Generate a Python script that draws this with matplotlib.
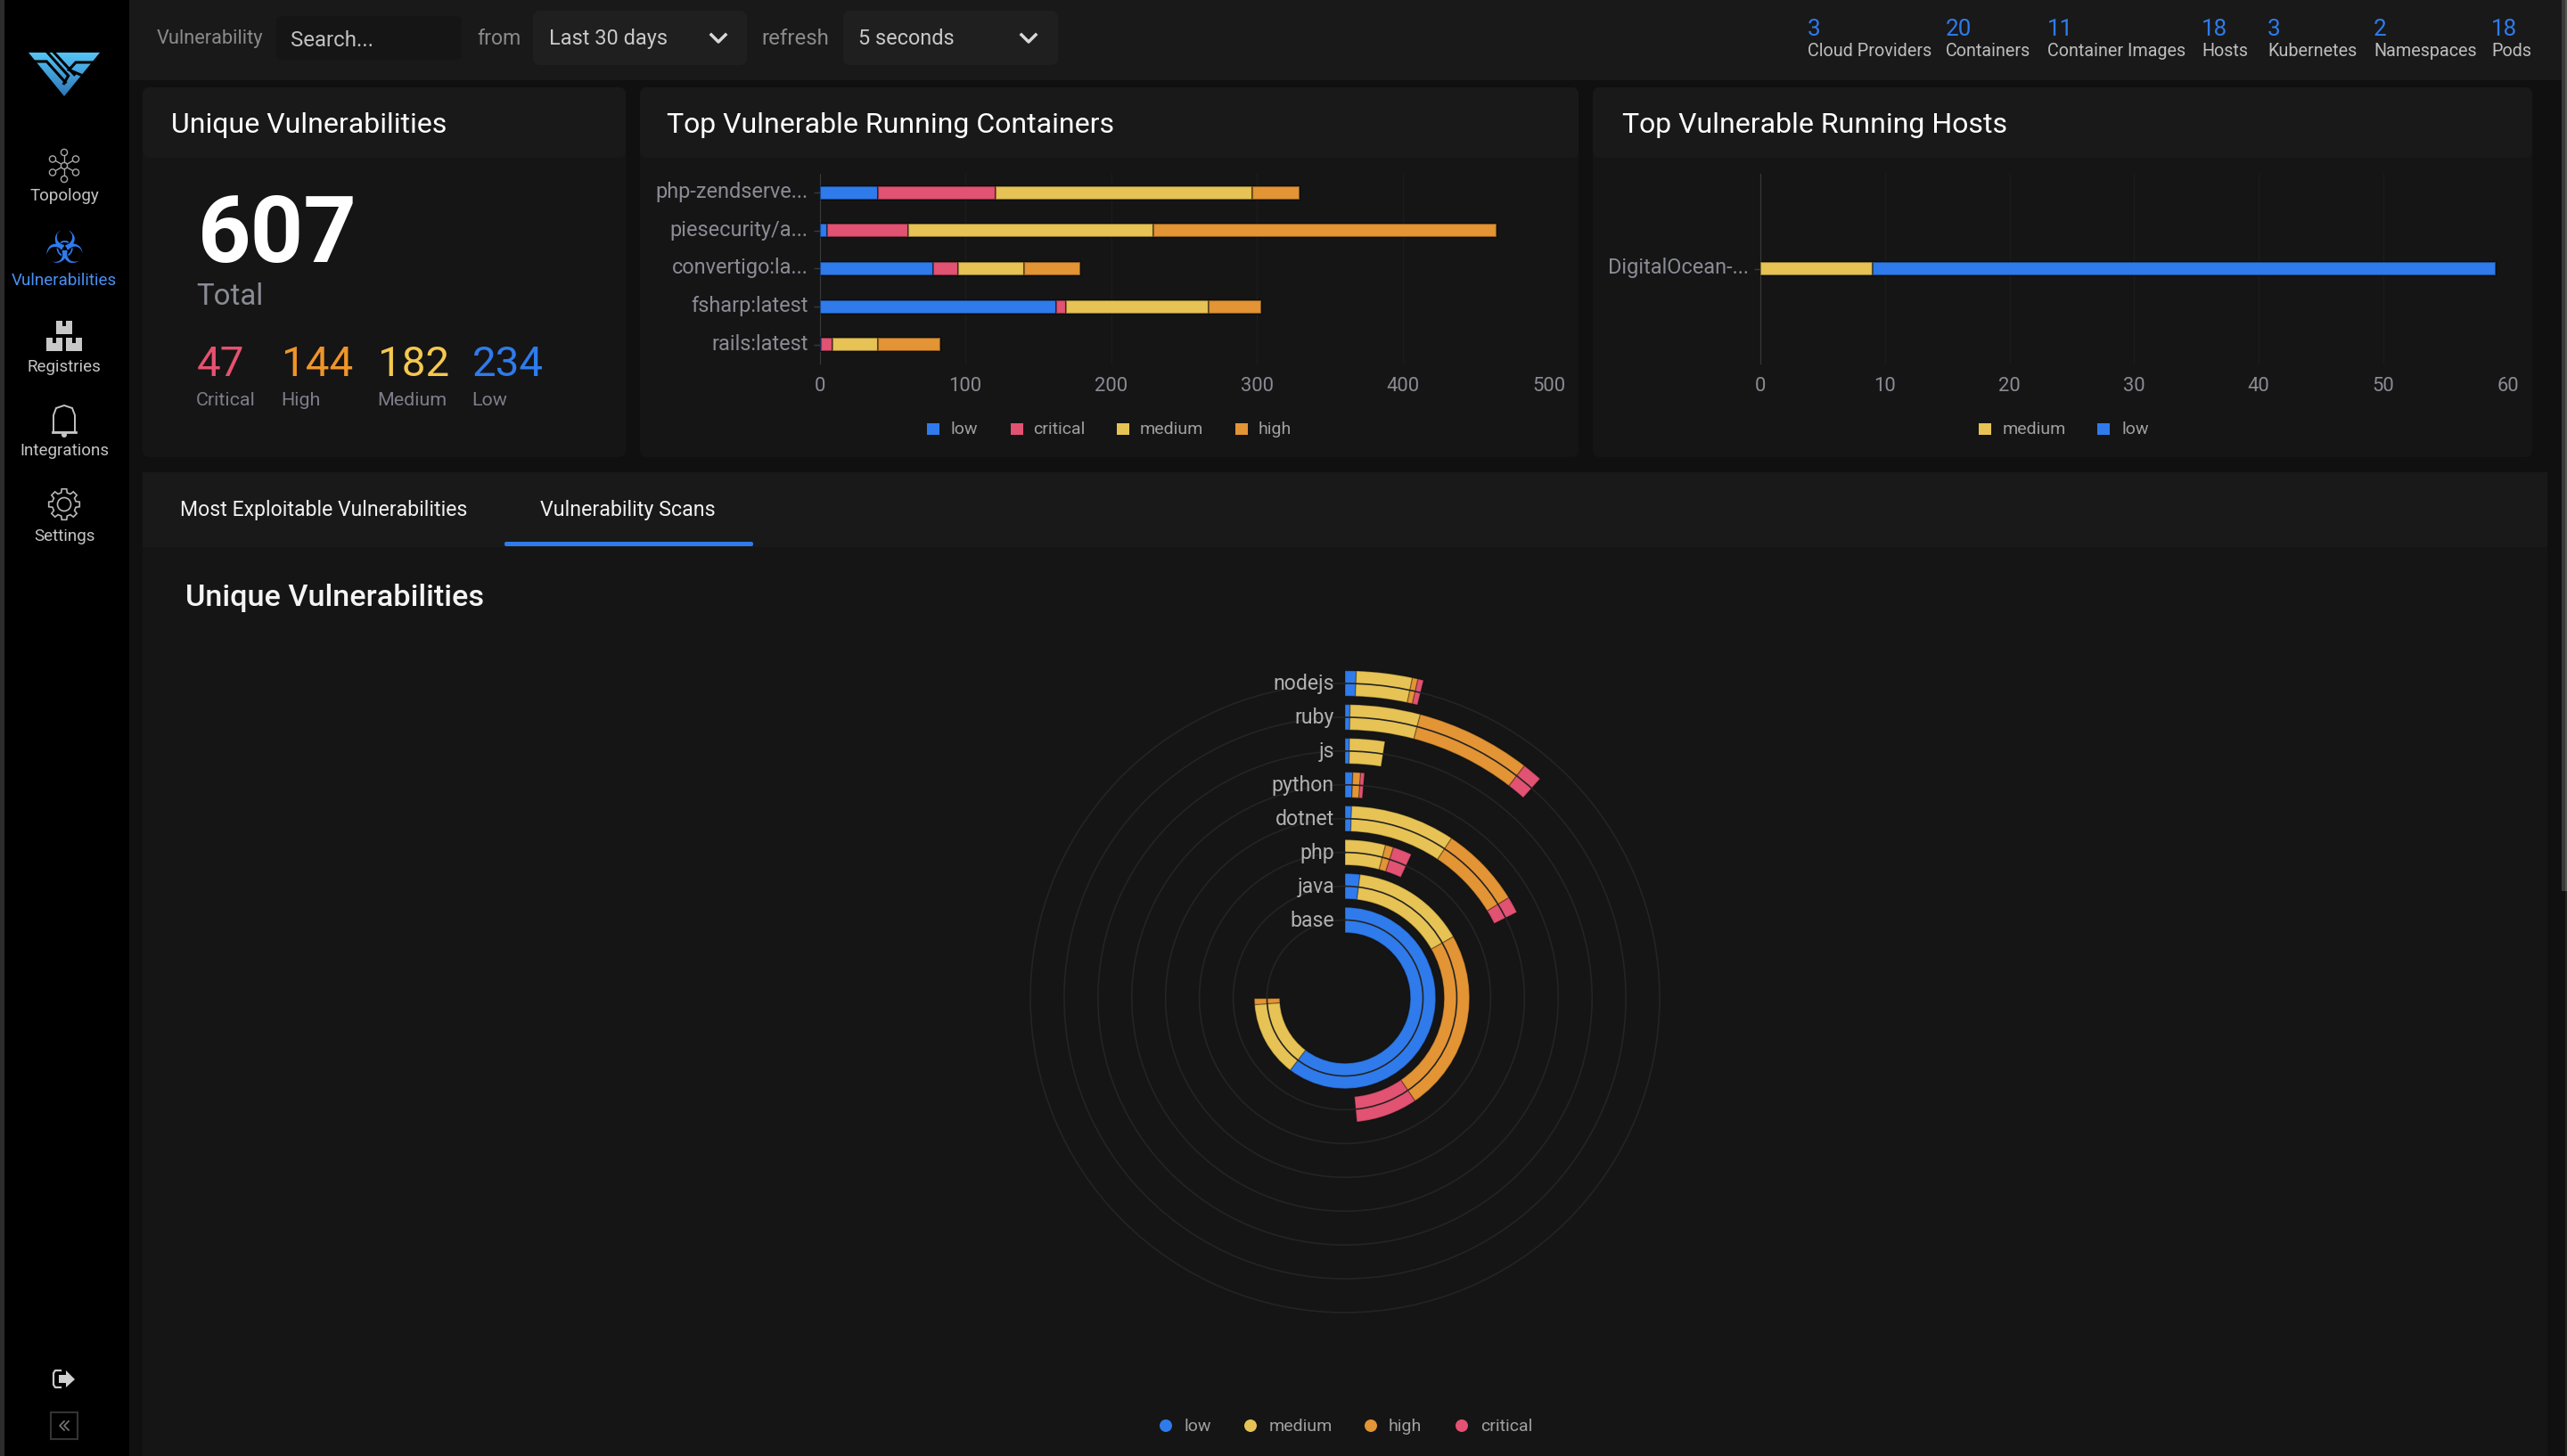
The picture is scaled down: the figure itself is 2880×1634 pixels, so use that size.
#!/usr/bin/env python
"""Vulnerability dashboard: stacked bars, stacked polar bars and the UI around them."""
import matplotlib
matplotlib.use("Agg")
import matplotlib.patches as mpatches
import matplotlib.pyplot as plt
import matplotlib.transforms as mtrans
import numpy as np

W, H = 2880, 1634
plt.rcParams["font.family"] = ["Roboto", "DejaVu Sans"]

BLUE = "#2f7bec"
RED = "#e25272"
YELLOW = "#e6c354"
ORANGE = "#e39434"
COLORS = {"low": BLUE, "critical": RED, "medium": YELLOW, "high": ORANGE}
GREY = "#8b8b96"

# top stats
stat_names = ["Cloud Providers", "Containers", "Container Images", "Hosts", "Kubernetes", "Namespaces", "Pods"]
stat_values = [3, 20, 11, 18, 3, 2, 18]
stat_x = [2028, 2183, 2297, 2470, 2544, 2663, 2795]

# severity totals
sev_names = ["Critical", "High", "Medium", "Low"]
sev_values = [47, 144, 182, 234]
sev_colors = ["#e5526f", "#f0952a", "#f5c84f", BLUE]
sev_x = [220, 315, 423, 529]

# containers chart
containers = ["php-zendserve...", "piesecurity/a...", "convertigo:la...", "fsharp:latest", "rails:latest"]
cont_low = [40, 5, 78, 162, 1]
cont_critical = [81, 56, 17, 7, 8]
cont_medium = [176, 168, 45, 98, 31]
cont_high = [32, 235, 39, 36, 43]

# hosts chart
hosts = ["DigitalOcean-..."]
host_medium = [9]
host_low = [50]

# polar chart, inner ring first
scan_names = ["base", "java", "php", "dotnet", "python", "js", "ruby", "nodejs"]
scan_low = [219, 7, 0, 2, 2, 1, 1, 2]
scan_medium = [49, 54, 15, 32, 0, 8, 14, 10]
scan_high = [4, 86, 3, 25, 2, 0, 23, 1]
scan_critical = [0, 29, 7, 5, 1, 0, 4, 1]
ANGLE_MAX = 363

fig = plt.figure(figsize=(W / 100, H / 100), dpi=100, facecolor="#101010")


def fs(px):
    return px * 0.72


def px_axes(left, top, right, bottom, **kw):
    ax = fig.add_axes([left / W, 1 - bottom / H, (right - left) / W, (bottom - top) / H], **kw)
    ax.patch.set_alpha(0)
    return ax


ui = px_axes(0, 0, W, H)
ui.axis("off")


def box(x0, y0, x1, y1, color, rad=0):
    if rad:
        p = mpatches.FancyBboxPatch((x0 + rad, y0 + rad), x1 - x0 - 2 * rad, y1 - y0 - 2 * rad,
                                    boxstyle=f"round,pad={rad},rounding_size={rad}", fc=color, ec="none")
    else:
        p = mpatches.Rectangle((x0, y0), x1 - x0, y1 - y0, fc=color, ec="none")
    ui.add_patch(p)


def label(x, y, s, px, color="#c8c8c8", ha="left", **kw):
    ui.text(x, y + 2, s, fontsize=fs(px), color=color, ha=ha, va="center", **kw)


# background blocks
box(0, 0, W, 90, "#191919")
box(0, 0, 5, H, "#2c2c2c")
box(5, 0, 145, H, "#000000")
box(2878, 1000, W, H, "#222222")
box(2874, 0, 2878, 1000, "#3a3a3a")
box(2878, 0, W, 1000, "#555555")
box(160, 530, 2858, H + 20, "#151515")
box(160, 530, 2858, 614, "#191919")
box(566, 608, 845, 613, "#2f7bec", 2)
for x0, x1 in [(160, 702), (718, 1771), (1787, 2841)]:
    box(x0, 98, x1, 513, "#151515", 8)
    box(x0, 98, x1, 177, "#191919", 8)

# header bar
label(176, 41, "Vulnerability", 21.8, "#8a8a8a")
box(310, 18, 518, 67, "#151515", 6)
label(326, 43, "Search...", 24, "#c0c0c0")
label(535, 41, "from", 23, "#8a8a8a")
box(598, 12, 838, 73, "#1f1f1f", 8)
label(616, 41, "Last 30 days", 23.5, "#c8c8c8")
label(854, 41, "refresh", 24, "#8a8a8a")
box(946, 12, 1187, 73, "#1f1f1f", 8)
label(963, 41, "5 seconds", 23.5, "#c8c8c8")
for cx in (806, 1154):
    ui.plot([cx - 8, cx, cx + 8], [39, 47, 39], color="#d8d8d8", lw=2.5)
for x, v, n in zip(stat_x, stat_values, stat_names):
    label(x, 31, str(v), 26, BLUE)
    label(x, 55, n, 19.8, "#bdbdbd")

# sidebar logo, gradient clipped to the triangle, then the cuts in black
logo = mpatches.Polygon([(32, 59), (112, 59), (72, 108)], transform=ui.transData, fc="none", ec="none")
ui.add_patch(logo)
grad = ui.imshow(np.linspace(0, 1, 50).reshape(-1, 1), extent=(32, 112, 108, 59), aspect="auto", zorder=2,
                 cmap=matplotlib.colors.LinearSegmentedColormap.from_list("logo", ["#54c4f5", "#2f78b8"]))
grad.set_clip_path(logo)
for zx, zy in [([55, 97, 160], [72, 72, 142]), ([100, 170, 155], [42, 120, 146]),
               ([122, 190], [42, 116]), ([250, 195, 172, 214], [75, 75, 100, 118])]:
    ui.plot(20 + np.array(zx) / 3, 45 + np.array(zy) / 3, color="#000000", lw=2.2,
            solid_joinstyle="miter", zorder=3)

# sidebar items
nav_names = ["Topology", "Vulnerabilities", "Registries", "Integrations", "Settings"]
nav_label_y = [220, 315, 412, 506, 602]
for n, y in zip(nav_names, nav_label_y):
    label(72, y - 2, n, 18.8, "#4a90f5" if n == "Vulnerabilities" else "#c4c4c4", ha="center")

for a in np.deg2rad([90, 30, -30, -90, -150, 150]):
    px, py = 72 + 15 * np.cos(a), 186 - 15 * np.sin(a)
    ui.plot([72, px], [186, py], color="#a8a8a8", lw=1)
    ui.add_patch(mpatches.Circle((px, py), 3.6, fc="#000000", ec="#a8a8a8", lw=1, zorder=3))
ui.add_patch(mpatches.Circle((72, 186), 3.6, fc="#000000", ec="#a8a8a8", lw=1, zorder=3))
ui.text(72, 281, "\u2623", fontsize=fs(50), color="#2f7bec", ha="center", va="center", family="DejaVu Sans")
for x0, y0 in [(63, 360), (52, 379), (74, 379)]:
    box(x0, y0, x0 + 18, y0 + 15, "#c8c8c8")
    box(x0 + 7, y0, x0 + 11, y0 + 6, "#000000")
ui.add_patch(mpatches.Polygon([(60, 485), (60, 466), (63, 458), (72, 455), (81, 458), (84, 466), (84, 485)],
                              fc="none", ec="#c4c4c4", lw=1.4))
ui.plot([59, 85], [485, 485], color="#c4c4c4", lw=2)
ui.add_patch(mpatches.Circle((72, 488), 3, fc="#c4c4c4", ec="none"))
# gear outline
ang = np.deg2rad(np.arange(0, 360, 45))
gear = []
for a in ang:
    for da, rr in [(-14, 13.5), (-9, 17.5), (9, 17.5), (14, 13.5)]:
        t = a + np.deg2rad(da)
        gear.append((72 + rr * np.cos(t), 566 + rr * np.sin(t)))
ui.add_patch(mpatches.Polygon(gear, fc="none", ec="#b8b8b8", lw=1.2))
ui.add_patch(mpatches.Circle((72, 566), 7.5, fc="none", ec="#b8b8b8", lw=1.2))

# logout and collapse
ui.plot([68, 62, 60, 60, 62, 68], [1538, 1538, 1541, 1554, 1557, 1557], color="#c8c8c8", lw=1.6)
ui.add_patch(mpatches.Polygon([(66, 1543), (74, 1543), (74, 1538), (84, 1548), (74, 1557), (74, 1552), (66, 1552)],
                              fc="#d0d0d0", ec="none"))
ui.add_patch(mpatches.Rectangle((57, 1585), 30, 30, fc="#000000", ec="#333333", lw=1.5))
for dx in (0, 5):
    ui.plot([72 + dx, 67 + dx, 72 + dx], [1595, 1600, 1605], color="#777777", lw=1.2)

# panel one
label(192, 138, "Unique Vulnerabilities", 32, "#ffffff")
label(748, 138, "Top Vulnerable Running Containers", 32, "#ffffff")
label(1820, 138, "Top Vulnerable Running Hosts", 32, "#ffffff")
label(222, 263, "607", 104, "#ffffff", fontweight="bold")
label(220, 331, "Total", 33, GREY)
for x, v, n, c in zip(sev_x, sev_values, sev_names, sev_colors):
    label(x + 1, 407, str(v), 47.5, c)
    label(x, 447, n, 21.5, "#7d7d8a")

# tabs
label(202, 571, "Most Exploitable Vulnerabilities", 23, "#f0f0f0")
label(606, 571, "Vulnerability Scans", 23.3, "#f0f0f0")
label(208, 669, "Unique Vulnerabilities", 34.3, "#f4f4f4", fontweight="medium")


def stacked_hbar(ax_box, names, series, xmax, xstep, bar_px=15):
    left, top, right, bottom = ax_box
    ax = px_axes(left, top, right, bottom)
    pos = np.arange(len(names))
    height = bar_px * len(names) / (bottom - top)
    start = np.zeros(len(names))
    for key, vals in series:
        ax.barh(pos, vals, left=start, height=height, color=COLORS[key],
                edgecolor=(0, 0, 0, 0.4), linewidth=1.5, zorder=3)
        start = start + np.array(vals)
    ax.set_xlim(0, xmax)
    ax.set_ylim(len(names) - 0.5, -0.5)
    ax.set_xticks(np.arange(0, xmax + 1, xstep))
    ax.set_yticks(pos)
    ax.set_yticklabels(names)
    ax.grid(axis="x", color="#1c1c1c", lw=1)
    ax.set_axisbelow(True)
    for s in ("top", "right", "bottom"):
        ax.spines[s].set_visible(False)
    ax.spines["left"].set_color("#3a3a3a")
    ax.tick_params(axis="x", length=0, pad=10.5, labelsize=fs(22), labelcolor=GREY)
    ax.tick_params(axis="y", length=5, width=1, color="#3a3a3a", pad=4.5, labelsize=fs(23.5), labelcolor=GREY)
    up = mtrans.ScaledTranslation(0, 3 / 100, fig.dpi_scale_trans)
    for t in ax.get_yticklabels():
        t.set_transform(t.get_transform() + up)
    return ax


stacked_hbar((919.5, 195, 1737.6, 408), containers,
             [("low", cont_low), ("critical", cont_critical), ("medium", cont_medium), ("high", cont_high)], 500, 100)
stacked_hbar((1975, 195, 2813.7, 408), hosts, [("medium", host_medium), ("low", host_low)], 60, 10)

# bar legends
for key, mx, tx in [("low", 1047, 1066), ("critical", 1141, 1159), ("medium", 1260, 1279), ("high", 1393, 1412),
                    ("medium", 2227, 2247), ("low", 2360, 2380)]:
    box(mx - 7, 475, mx + 7, 488, COLORS[key])
    label(tx, 480, key, 19.5, "#a0a0a0")

# polar chart
CX, CY, UNIT = 1509, 1120, 37.93
R = 87.5 + 7.5 * UNIT
pol = px_axes(CX - R, CY - R, CX + R, CY + R, projection="polar")
pol.set_theta_zero_location("N")
pol.set_theta_direction(-1)
pos = np.arange(len(scan_names))
start = np.zeros(len(scan_names))
to_rad = 2 * np.pi / ANGLE_MAX
for key, vals in [("low", scan_low), ("medium", scan_medium), ("high", scan_high), ("critical", scan_critical)]:
    vals = np.array(vals, dtype=float)
    pol.bar(start * to_rad, 0.75, width=vals * to_rad, bottom=pos - 0.375, align="edge",
            color=COLORS[key], edgecolor=(0, 0, 0, 0.25), linewidth=1)
    start = start + vals
pol.set_ylim(-87.5 / UNIT, 7.5)
pol.set_xticks([])
pol.set_yticks(pos)
pol.tick_params(labelleft=False, length=0)
pol.grid(axis="y", color="#242424", lw=1.2)
pol.set_axisbelow(False)
pol.spines["polar"].set_visible(False)
for i, n in enumerate(scan_names):
    pol.annotate(n, xy=(0, i), xytext=(fs(-12), fs(-1)), textcoords="offset points", ha="right", va="center",
                 fontsize=fs(23), color="#b0b0b0", annotation_clip=False, zorder=5)

# polar legend
for key, mx, tx in [("low", 1308, 1328), ("medium", 1403, 1424), ("high", 1538, 1558), ("critical", 1640, 1661)]:
    ui.add_patch(mpatches.Circle((mx, 1600), 7, fc=COLORS[key], ec="none"))
    label(tx, 1599, key, 19.5, "#a0a0a0")

ui.set_xlim(0, W)
ui.set_ylim(H, 0)
fig.savefig("out.png", dpi=100, facecolor=fig.get_facecolor())
